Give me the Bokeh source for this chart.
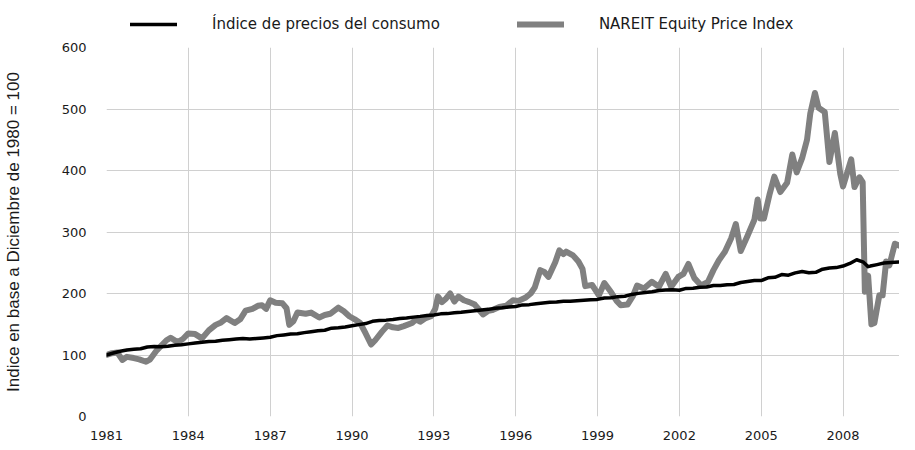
from bokeh.plotting import figure
from bokeh.layouts import column
from bokeh.models import Legend, LegendItem, FixedTicker, Range1d, ColumnDataSource
from bokeh.embed import file_html
from bokeh.resources import INLINE

# ---------------- data ----------------
cpi_x = [
    1981.0, 1981.25, 1981.5, 1981.75, 1982.0, 1982.25, 1982.5, 1982.75,
    1983.0, 1983.25, 1983.5, 1983.75, 1984.0, 1984.25, 1984.5, 1984.75,
    1985.0, 1985.25, 1985.5, 1985.75, 1986.0, 1986.25, 1986.5, 1986.75,
    1987.0, 1987.25, 1987.5, 1987.75, 1988.0, 1988.25, 1988.5, 1988.75,
    1989.0, 1989.25, 1989.5, 1989.75, 1990.0, 1990.25, 1990.5, 1990.75,
    1991.0, 1991.25, 1991.5, 1991.75, 1992.0, 1992.25, 1992.5, 1992.75,
    1993.0, 1993.25, 1993.5, 1993.75, 1994.0, 1994.25, 1994.5, 1994.75,
    1995.0, 1995.25, 1995.5, 1995.75, 1996.0, 1996.25, 1996.5, 1996.75,
    1997.0, 1997.25, 1997.5, 1997.75, 1998.0, 1998.25, 1998.5, 1998.75,
    1999.0, 1999.25, 1999.5, 1999.75, 2000.0, 2000.25, 2000.5, 2000.75,
    2001.0, 2001.25, 2001.5, 2001.75, 2002.0, 2002.25, 2002.5, 2002.75,
    2003.0, 2003.25, 2003.5, 2003.75, 2004.0, 2004.25, 2004.5, 2004.75,
    2005.0, 2005.25, 2005.5, 2005.75, 2006.0, 2006.25, 2006.5, 2006.75,
    2007.0, 2007.25, 2007.5, 2007.75, 2008.0, 2008.25, 2008.5, 2008.75,
    2008.92, 2009.0, 2009.25, 2009.5, 2009.75, 2010.05,
]
cpi_y = [
    100.0, 103.2, 106.1, 108.2, 109.3, 110.1, 113.0, 113.8,
    113.3, 114.3, 115.8, 116.8, 118.1, 119.5, 120.6, 122.0,
    122.2, 123.9, 124.9, 126.0, 127.0, 126.0, 126.9, 127.8,
    128.9, 131.5, 132.7, 134.1, 134.4, 136.4, 137.9, 139.4,
    140.3, 143.6, 144.2, 145.5, 147.6, 149.4, 151.1, 154.7,
    156.0, 156.7, 157.8, 159.2, 160.0, 161.6, 162.8, 164.3,
    165.2, 166.9, 167.3, 168.8, 169.4, 170.8, 172.0, 173.2,
    174.2, 176.0, 176.7, 178.0, 178.9, 181.5, 181.9, 183.4,
    184.4, 185.6, 186.0, 187.3, 187.3, 188.3, 189.1, 190.0,
    190.4, 192.6, 193.2, 194.9, 195.6, 198.5, 200.2, 201.6,
    202.9, 205.0, 205.7, 205.9, 205.2, 208.3, 208.7, 210.0,
    210.5, 213.0, 213.1, 214.4, 214.6, 217.8, 219.5, 221.2,
    221.0, 225.5, 226.4, 230.8, 229.8, 233.5, 235.8, 233.8,
    234.5, 239.5, 241.4, 242.1, 244.6, 248.9, 254.9, 251.0,
    243.6, 244.6, 247.0, 249.6, 250.5, 251.1,
]

reit_x = [
    1981.0, 1981.2, 1981.4, 1981.58, 1981.75, 1982.0, 1982.2, 1982.45, 1982.6, 1982.85,
    1983.2, 1983.35, 1983.6, 1983.8, 1984.0, 1984.25, 1984.5, 1984.75, 1985.0, 1985.2,
    1985.4, 1985.7, 1985.9, 1986.1, 1986.35, 1986.55, 1986.7, 1986.85, 1987.0, 1987.2,
    1987.45, 1987.6, 1987.7, 1987.85, 1988.0, 1988.3, 1988.5, 1988.8, 1989.0, 1989.2,
    1989.5, 1989.7, 1989.9, 1990.1, 1990.3, 1990.5, 1990.7, 1990.85, 1991.1, 1991.3,
    1991.5, 1991.7, 1991.9, 1992.2, 1992.35, 1992.5, 1992.7, 1992.9, 1993.05, 1993.15,
    1993.3, 1993.45, 1993.6, 1993.75, 1993.9, 1994.1, 1994.3, 1994.5, 1994.65, 1994.8,
    1995.0, 1995.15, 1995.4, 1995.65, 1995.9, 1996.1, 1996.35, 1996.55, 1996.7, 1996.9,
    1997.05, 1997.2, 1997.45, 1997.6, 1997.75, 1997.85, 1998.1, 1998.3, 1998.45, 1998.55,
    1998.8, 1999.05, 1999.25, 1999.5, 1999.7, 1999.85, 2000.1, 2000.3, 2000.45, 2000.7,
    2000.99, 2001.25, 2001.5, 2001.7, 2001.96, 2002.15, 2002.33, 2002.55, 2002.8, 2003.05,
    2003.25, 2003.45, 2003.67, 2003.9, 2004.07, 2004.25, 2004.5, 2004.75, 2004.87, 2004.97,
    2005.1, 2005.3, 2005.48, 2005.7, 2005.85, 2005.95, 2006.14, 2006.3, 2006.5, 2006.68,
    2006.8, 2006.97, 2007.1, 2007.33, 2007.5, 2007.7, 2007.9, 2008.0, 2008.3, 2008.42,
    2008.6, 2008.72, 2008.8, 2008.92, 2009.04, 2009.15, 2009.33, 2009.45, 2009.58, 2009.7,
    2009.9, 2010.05,
]
reit_y = [
    100, 103, 104, 92, 97, 95, 93, 89, 93, 108,
    124, 128, 121, 126, 135, 134, 127, 140, 149, 153,
    160, 152, 158, 172, 175, 180, 181, 175, 189, 185,
    184, 176, 149, 155, 169, 167, 169, 161, 165, 167,
    177, 171, 163, 158, 152, 135, 117, 124, 138, 148,
    145, 144, 147, 152, 158, 154, 160, 163, 175, 195,
    186, 192, 200, 187, 195, 189, 186, 182, 174, 166,
    172, 173, 178, 180, 189, 188, 193, 200, 210, 238,
    235, 227, 251, 270, 264, 268, 262, 252, 240, 212,
    214, 197, 217, 202, 188, 181, 182, 196, 213, 208,
    219, 211, 232, 211, 227, 232, 248, 225, 213, 219,
    238, 254, 268, 290, 313, 269, 294, 320, 353, 322,
    322, 360, 390, 365, 374, 380, 426, 397, 420, 450,
    493, 526, 502, 495, 414, 461, 394, 374, 418, 373,
    389, 381, 203, 229, 150, 152, 197, 197, 252, 246,
    281, 278,
]

x_ticks = [1981, 1984, 1987, 1990, 1993, 1996, 1999, 2002, 2005, 2008]
x_tick_labels = ["1981", "1984", "1987", "1990", "1993", "1996", "1999", "2002", "2005", "2008"]
y_ticks = [0, 100, 200, 300, 400, 500, 600]

cpi_name = "Índice de precios del consumo"
reit_name = "NAREIT Equity Price Index"
y_title = "Indice en base a Diciembre de 1980 = 100"

# ---------------- styles ----------------
FONT = "DejaVu Sans"
TXT = "#1a1a1a"
CPI_STYLE = dict(line_color="#000000", line_width=3.5, line_join="round", line_cap="round")
REIT_STYLE = dict(line_color="#808080", line_width=6, line_join="round", line_cap="round")

# ---------------- main chart ----------------
p = figure(width=899, height=403, output_backend="svg", toolbar_location=None,
           x_range=Range1d(1981, 2010.07), y_range=Range1d(0, 600),
           min_border_left=100, min_border_right=0, min_border_top=8,
           min_border_bottom=23)
p.outline_line_color = None
p.background_fill_color = "white"
p.border_fill_color = "white"

src_reit = ColumnDataSource(dict(x=reit_x, y=reit_y))
src_cpi = ColumnDataSource(dict(x=cpi_x, y=cpi_y))

p.line("x", "y", source=src_reit, **REIT_STYLE)
p.line("x", "y", source=src_cpi, **CPI_STYLE)

for ax in (p.xaxis[0], p.yaxis[0]):
    ax.axis_line_color = None
    ax.major_tick_line_color = None
    ax.minor_tick_line_color = None
    ax.major_label_text_font = FONT
    ax.major_label_text_font_size = "13px"
    ax.major_label_text_color = TXT

p.xaxis.ticker = FixedTicker(ticks=x_ticks)
p.xaxis.major_label_overrides = {t: l for t, l in zip(x_ticks, x_tick_labels)}
p.xaxis.major_label_standoff = 8
p.yaxis.ticker = FixedTicker(ticks=y_ticks)
p.yaxis.major_label_standoff = 14

p.yaxis.axis_label = y_title
p.yaxis.axis_label_text_font = "Liberation Sans"
p.yaxis.axis_label_text_font_size = "17px"
p.yaxis.axis_label_text_font_style = "normal"
p.yaxis.axis_label_text_color = TXT
p.yaxis.axis_label_standoff = 36

p.xgrid.ticker = FixedTicker(ticks=x_ticks[1:])
p.ygrid.ticker = FixedTicker(ticks=y_ticks[1:])
p.xgrid.grid_line_color = "#d0d0d0"
p.ygrid.grid_line_color = "#d0d0d0"

# ---------------- legend strip ----------------
NAN = float("nan")
lf = figure(width=899, height=39, output_backend="svg", toolbar_location=None,
            x_range=Range1d(0, 1), y_range=Range1d(0, 1),
            x_axis_type=None, y_axis_type=None, min_border=0)
lf.outline_line_color = None
lf.xgrid.visible = False
lf.ygrid.visible = False
lg_cpi = lf.line(x=[NAN], y=[NAN], **CPI_STYLE)
lg_reit = lf.line(x=[NAN], y=[NAN], **REIT_STYLE)

legend = Legend(items=[LegendItem(label=cpi_name, renderers=[lg_cpi]),
                       LegendItem(label=reit_name, renderers=[lg_reit])],
                location=(24, 5), orientation="horizontal",
                glyph_width=47, glyph_height=20, label_standoff=35,
                spacing=77, padding=0, margin=0,
                border_line_color=None, background_fill_alpha=0,
                label_text_font=FONT, label_text_font_size="15px",
                label_text_color=TXT)
lf.add_layout(legend, "center")

layout = column(lf, p, spacing=0)
open("out.html", "w").write(file_html(layout, INLINE))
